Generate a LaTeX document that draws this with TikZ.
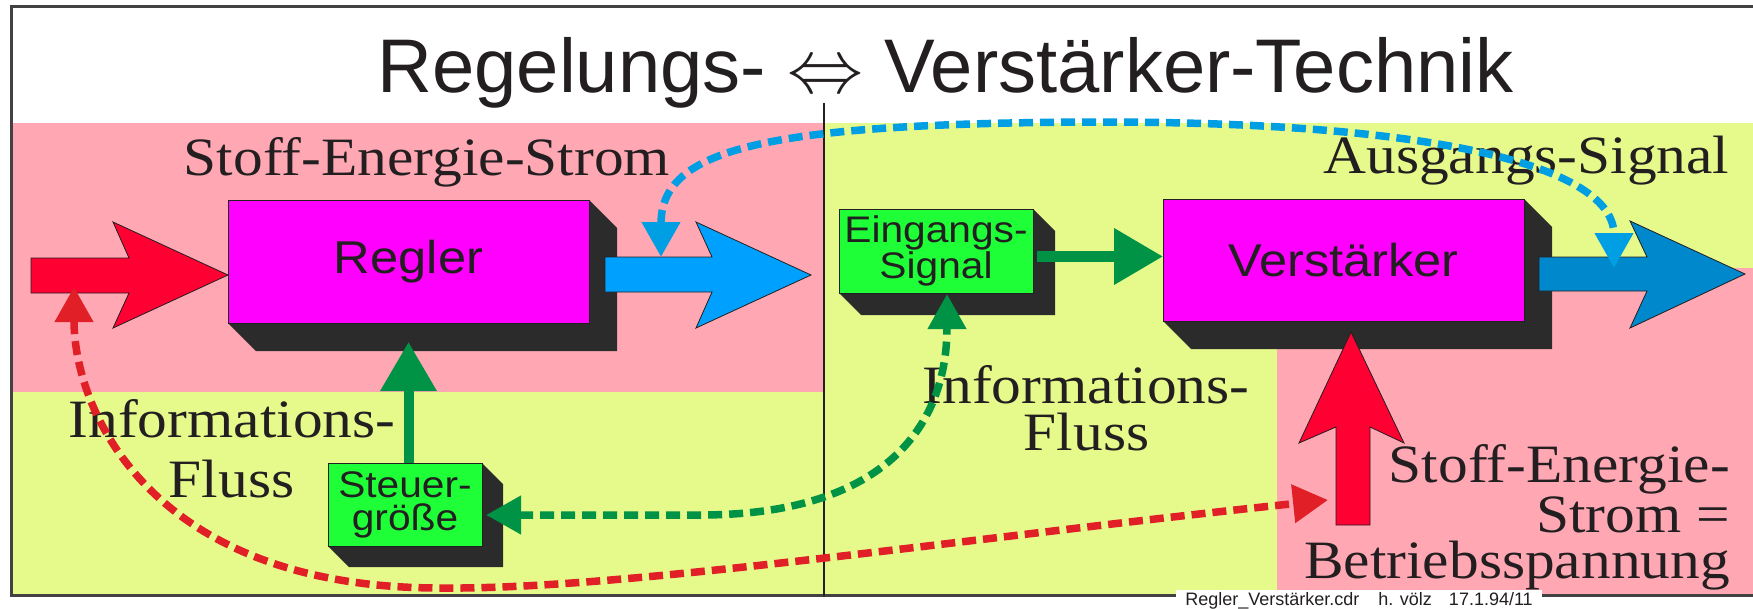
\documentclass[tikz,border=0pt]{standalone}
\usepackage{fontspec}
\setmainfont{Liberation Serif}
\newfontfamily\headfont{Liberation Sans}
\newfontfamily\blockfont[FakeStretch=1.1]{Liberation Sans}
\newfontfamily\notefont[FakeStretch=1.1]{Liberation Serif}
\usetikzlibrary{arrows.meta,calc}

\definecolor{ink}{HTML}{231F20}
\definecolor{rosebg}{HTML}{FFA8B4}
\definecolor{limebg}{HTML}{E6FA8C}
\definecolor{blockmag}{HTML}{FF00FF}
\definecolor{blockgreen}{HTML}{1EFF37}
\definecolor{blockdepth}{HTML}{2B2B2B}
\definecolor{energyred}{HTML}{FF0033}
\definecolor{dashred}{HTML}{E11F26}
\definecolor{outblue}{HTML}{00A0FF}
\definecolor{outbluedark}{HTML}{0088CC}
\definecolor{dashblue}{HTML}{009FE3}
\definecolor{infogreen}{HTML}{009245}

\pgfdeclarelayer{paper}
\pgfdeclarelayer{depth}
\pgfsetlayers{paper,depth,main}

% 3D extrusion below and right of a block node: #1 node name, #2 depth
\newcommand\dropshade[2]{%
  \begin{pgfonlayer}{depth}
    \fill[blockdepth] (#1.north east) -- ++(#2,#2) -- ($(#1.south east)+(#2,#2)$)
      -- ($(#1.south west)+(#2,#2)$) -- (#1.south west) -- (#1.south east) -- cycle;
  \end{pgfonlayer}}

\begin{document}
\begin{tikzpicture}[x=1pt, y=-1pt,
  magbox/.style={draw=ink, line width=1pt, fill=blockmag, inner sep=0pt, outer sep=0pt,
    text=ink, font=\blockfont\fontsize{46}{50}\selectfont, minimum width=361pt},
  greenbox/.style={draw=ink, line width=1pt, fill=blockgreen, inner sep=0pt, outer sep=0pt,
    text=ink, align=center, font=\blockfont\fontsize{37}{33}\selectfont},
  note/.style={inner sep=0pt, text=ink, font=\notefont\fontsize{54}{54}\selectfont},
  fatarrow/.style={draw=ink, line width=0.8pt, line join=miter},
  signal/.style={infogreen, line width=10.5pt, -{Triangle[length=49pt,width=54pt]}},
  flow/.style={line width=7.5pt, dash pattern=on 14pt off 7pt,
    {Triangle[length=35pt,width=37pt]}-{Triangle[length=35pt,width=37pt]}},
]
\useasboundingbox (0,0) rectangle (1753,608);

% coloured fields
\begin{pgfonlayer}{paper}
  \fill[white] (0,0) rectangle (1753,608);
  \fill[rosebg] (11,123) rectangle (824,392);
  \fill[limebg] (11,392) rectangle (824,595);
  \fill[limebg] (824,123) rectangle (1753,595);
  \fill[rosebg] (1277,268) rectangle (1753,595);
\end{pgfonlayer}

% frame and divider
\draw[ink!85, line width=3pt, line join=miter] (1760,6) -- (11,6) -- (11,595.5) -- (1760,595.5);
\draw[ink, line width=2.5pt] (824,103) -- (824,595.5);

% heading
\node[anchor=base, inner sep=0pt, text=ink, font=\headfont\fontsize{76}{80}\selectfont]
  (title) at (945.5,92) {Regelungs- \scalebox{7.6}{\normalsize$\Leftrightarrow$} Verstärker-Technik};

% field labels
\node[note, anchor=base] (sesL) at (427,175) {Stoff-Energie-Strom};
\node[note, anchor=base] (infL1) at (232,437) {Informations-};
\node[note, anchor=base] (infL2) at (231.5,497) {Fluss};
\node[note, anchor=base] (infR1) at (1086,403) {Informations-};
\node[note, anchor=base] (infR2) at (1086.5,450) {Fluss};
\node[note, anchor=base] (outsig) at (1526.5,173) {Ausgangs-Signal};
\node[note, anchor=base east] (sesR1) at (1730,482) {Stoff-Energie-};
\node[note, anchor=base east] (sesR2) at (1730,532) {Strom =};
\node[note, anchor=base east] (sesR3) at (1730,578) {Betriebsspannung};

% blocks
\node[magbox, minimum height=123pt] (regler) at (408.5,261.5) {Regler};
\node[magbox, minimum height=122pt] (verst) at (1343.5,260) {Verstärker};
\node[greenbox, minimum width=194pt, minimum height=84pt] (eing) at (936,251) {Eingangs-\\Signal};
\node[greenbox, minimum width=154pt, minimum height=83pt] (steuer) at (405,504.5) {Steuer-\\größe};
\dropshade{regler}{28}
\dropshade{verst}{28}
\dropshade{eing}{22}
\dropshade{steuer}{21}

% broad energy arrows
\filldraw[fatarrow, fill=energyred] (31,258) -- (129,258) -- (113,222) -- (228,275)
  -- (113,328) -- (129,293) -- (31,293) -- cycle;
\filldraw[fatarrow, fill=outblue] (605,257) -- (712,257) -- (696,222) -- (811,275)
  -- (696,328) -- (712,292) -- (605,292) -- cycle;
\filldraw[fatarrow, fill=outbluedark] (1539,257) -- (1647,257) -- (1630,221) -- (1745,274)
  -- (1630,328) -- (1647,291) -- (1539,291) -- cycle;
\filldraw[fatarrow, fill=energyred] (1336,525) -- (1336,427) -- (1299,443) -- (1351,332)
  -- (1404,443) -- (1370,427) -- (1370,525) -- cycle;

% information arrows
\path ($(eing.east)+(4,5.5)$) coordinate (sigA);
\draw[signal] (sigA) -- (sigA -| verst.west);
\draw[signal, line width=10pt] (steuer.north -| regler.south) -- ($(regler.south)+(0,19)$);

% dashed correspondences
\coordinate (fbA) at (661,257);
\coordinate (fbB) at (1614,268);
\coordinate (gA) at (486,515);
\coordinate (gB) at (947,294);
\coordinate (rA) at (74,287);
\coordinate (rB) at (1328,500);
\draw[flow, dashblue] (fbA) .. controls (661,150) and (760,123) .. (1100,122)
  .. controls (1430,122) and (1614,165) .. (fbB);
\draw[flow, infogreen] (gA) -- (700,515) .. controls (880,515) and (947,430) .. (gB);
\draw[flow, dashred] (rA) .. controls (74,410) and (150,588) .. (440,588)
  .. controls (620,590) and (950,540) .. (rB);

% file note
\node[fill=white, inner xsep=9pt, inner ysep=1.5pt, anchor=base, text=ink,
  font=\headfont\fontsize{18}{18}\selectfont] (foot) at (1359,605)
  {Regler\_Verstärker.cdr\hspace{19pt}h. völz\hspace{17pt}17.1.94/11};
\end{tikzpicture}
\end{document}
